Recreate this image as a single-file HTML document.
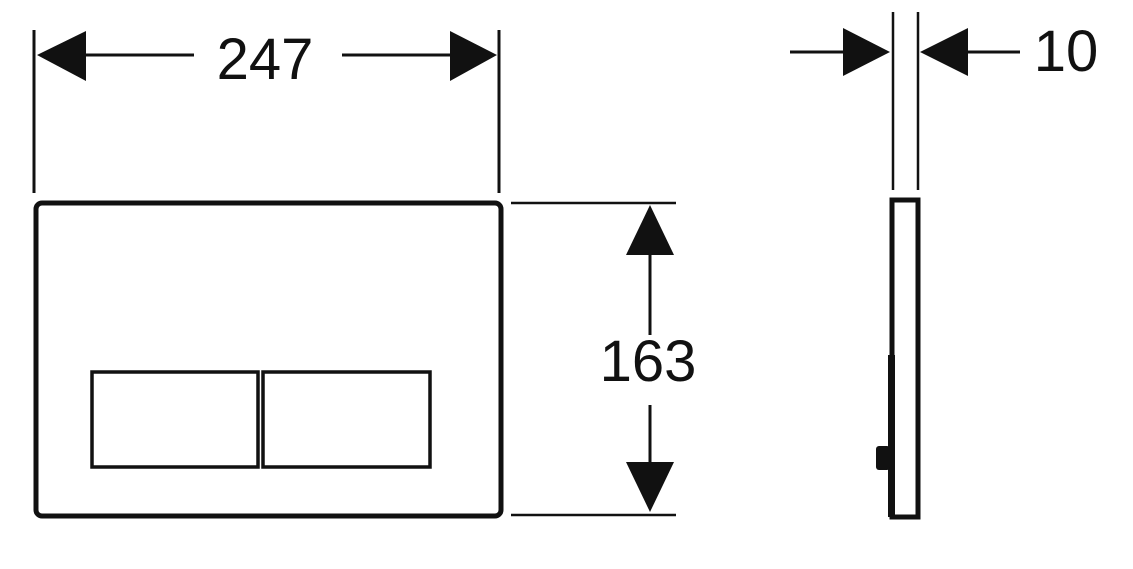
<!DOCTYPE html>
<html><head><style>body{margin:0;background:#fff}svg{display:block}</style></head>
<body>
<svg width="1133" height="569" viewBox="0 0 1133 569" xmlns="http://www.w3.org/2000/svg">
<g stroke="#111" fill="none">
<line x1="34" y1="30" x2="34" y2="193" stroke-width="3"/>
<line x1="499" y1="30" x2="499" y2="193" stroke-width="3"/>
<line x1="86" y1="55" x2="194" y2="55" stroke-width="3"/>
<line x1="342" y1="55" x2="450" y2="55" stroke-width="3"/>
<rect x="36" y="203" width="465" height="313" rx="6" stroke-width="5"/>
<rect x="92" y="372" width="166" height="95" stroke-width="3.5"/>
<rect x="263" y="372" width="167" height="95" stroke-width="3.5"/>
<line x1="511" y1="203" x2="676" y2="203" stroke-width="2.5"/>
<line x1="511" y1="515" x2="676" y2="515" stroke-width="2.5"/>
<line x1="650" y1="255" x2="650" y2="335" stroke-width="3"/>
<line x1="650" y1="405" x2="650" y2="462" stroke-width="3"/>
<line x1="893" y1="12" x2="893" y2="190" stroke-width="2.5"/>
<line x1="918" y1="12" x2="918" y2="190" stroke-width="2.5"/>
<line x1="790" y1="52" x2="843" y2="52" stroke-width="3"/>
<line x1="968" y1="52" x2="1020" y2="52" stroke-width="3"/>
<rect x="892" y="200" width="26" height="317" stroke-width="5"/>
</g>
<g fill="#111">
<polygon points="37,55 86,31 86,81"/>
<polygon points="497,55 450,31 450,81"/>
<polygon points="650,205 626,255 674,255"/>
<polygon points="650,512 626,462 674,462"/>
<polygon points="890,52 843,28 843,76"/>
<polygon points="920,52 968,28 968,76"/>
<rect x="888" y="355" width="7" height="162"/>
<rect x="876" y="446" width="14" height="24" rx="3"/>
</g>
<g font-family="Liberation Sans, sans-serif" font-size="58" fill="#111">
<text x="265" y="79" text-anchor="middle">247</text>
<text x="648" y="381" text-anchor="middle">163</text>
<text x="1066" y="71" text-anchor="middle">10</text>
</g>
</svg>
</body></html>
